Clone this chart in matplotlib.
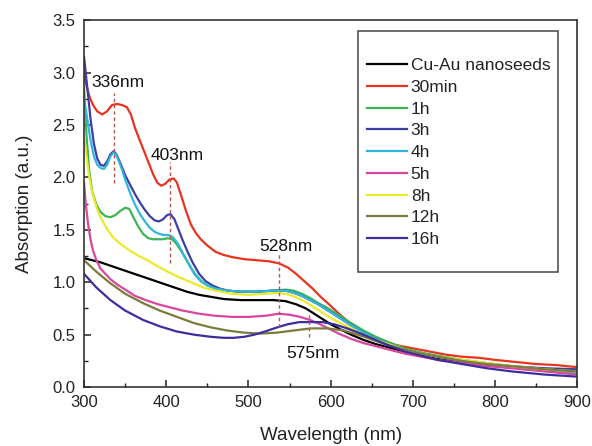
import matplotlib
matplotlib.use("Agg")
import matplotlib.pyplot as plt
from matplotlib.patches import Rectangle
from matplotlib.ticker import MultipleLocator

plt.rcParams["font.family"] = ["Liberation Sans", "DejaVu Sans"]

# --- data (wavelength nm, absorption a.u.) ---
wl_seed = [300, 310, 320, 335, 350, 365, 380, 395, 410, 425, 440, 455, 470, 490, 510, 530, 545, 558,
           570, 580, 590, 600, 612, 625, 640, 655, 670, 690, 710, 730, 760, 790, 820, 860, 900]
ab_seed = [1.23, 1.21, 1.19, 1.15, 1.11, 1.07, 1.03, 0.99, 0.95, 0.91, 0.88, 0.86, 0.84, 0.83, 0.83, 0.83,
           0.82, 0.79, 0.75, 0.70, 0.65, 0.60, 0.55, 0.50, 0.45, 0.41, 0.38, 0.34, 0.30, 0.27, 0.24, 0.21,
           0.19, 0.17, 0.16]

wl_30m = [300, 303, 307, 311, 316, 322, 328, 334, 340, 346, 352, 357, 362, 367, 372, 378, 384, 389, 394,
          399, 404, 409, 413, 418, 424, 430, 436, 442, 450, 460, 470, 480, 495, 510, 525, 537, 548, 558,
          568, 578, 588, 598, 610, 622, 635, 650, 665, 680, 700, 720, 740, 760, 780, 800, 825, 850, 875, 900]
ab_30m = [2.97, 2.87, 2.76, 2.69, 2.63, 2.60, 2.63, 2.69, 2.70, 2.69, 2.67, 2.60, 2.47, 2.37, 2.27, 2.15,
          2.03, 1.95, 1.92, 1.94, 1.98, 1.99, 1.95, 1.83, 1.68, 1.55, 1.47, 1.41, 1.35, 1.29, 1.26, 1.24,
          1.22, 1.21, 1.20, 1.18, 1.14, 1.08, 1.01, 0.94, 0.86, 0.79, 0.70, 0.62, 0.55, 0.49, 0.44, 0.40,
          0.37, 0.34, 0.31, 0.29, 0.28, 0.26, 0.24, 0.22, 0.21, 0.19]

wl_1h = [300, 303, 306, 310, 315, 320, 326, 332, 338, 344, 350, 355, 360, 366, 372, 378, 384, 390, 396,
         402, 407, 412, 418, 424, 430, 436, 443, 450, 460, 475, 490, 510, 530, 545, 555, 565, 575, 585,
         595, 605, 615, 625, 640, 655, 670, 690, 710, 730, 760, 790, 820, 860, 900]
ab_1h = [2.85, 2.40, 2.08, 1.86, 1.74, 1.67, 1.63, 1.62, 1.64, 1.68, 1.71, 1.70, 1.62, 1.53, 1.46, 1.42,
         1.41, 1.41, 1.41, 1.42, 1.41, 1.37, 1.30, 1.22, 1.14, 1.07, 1.01, 0.97, 0.94, 0.92, 0.91, 0.91,
         0.92, 0.93, 0.92, 0.89, 0.85, 0.80, 0.76, 0.71, 0.66, 0.61, 0.54, 0.48, 0.43, 0.37, 0.33, 0.30,
         0.26, 0.23, 0.20, 0.16, 0.13]

wl_3h = [300, 304, 308, 312, 316, 320, 324, 328, 332, 336, 340, 345, 350, 356, 362, 368, 374, 380, 386,
         391, 396, 401, 405, 410, 415, 420, 426, 432, 440, 448, 456, 465, 475, 490, 510, 530, 545, 555,
         565, 575, 585, 595, 605, 615, 625, 640, 655, 670, 690, 710, 730, 760, 790, 820, 860, 900]
ab_3h = [3.15, 2.85, 2.55, 2.32, 2.18, 2.12, 2.11, 2.15, 2.22, 2.25, 2.21, 2.12, 2.02, 1.93, 1.84, 1.76,
         1.69, 1.63, 1.59, 1.58, 1.60, 1.64, 1.65, 1.60, 1.50, 1.40, 1.29, 1.19, 1.08, 1.01, 0.97, 0.94,
         0.92, 0.91, 0.91, 0.92, 0.92, 0.90, 0.87, 0.83, 0.79, 0.74, 0.69, 0.64, 0.59, 0.52, 0.46, 0.41,
         0.36, 0.32, 0.29, 0.25, 0.22, 0.20, 0.18, 0.17]

wl_4h = [300, 304, 308, 312, 316, 320, 324, 328, 332, 336, 340, 345, 350, 356, 362, 368, 374, 380, 386,
         392, 398, 403, 408, 414, 420, 427, 434, 442, 450, 460, 475, 490, 510, 530, 545, 555, 565, 575,
         585, 595, 605, 615, 625, 640, 655, 670, 690, 710, 730, 760, 790, 820, 860, 900]
ab_4h = [2.75, 2.55, 2.35, 2.20, 2.12, 2.09, 2.08, 2.12, 2.20, 2.24, 2.20, 2.10, 1.98, 1.85, 1.74, 1.65,
         1.58, 1.52, 1.48, 1.46, 1.45, 1.45, 1.43, 1.37, 1.28, 1.18, 1.08, 1.01, 0.97, 0.94, 0.92, 0.91,
         0.91, 0.92, 0.92, 0.90, 0.87, 0.83, 0.79, 0.74, 0.69, 0.64, 0.59, 0.52, 0.46, 0.41, 0.36, 0.32,
         0.29, 0.25, 0.22, 0.19, 0.16, 0.13]

wl_5h = [300, 302, 305, 308, 311, 315, 320, 326, 332, 340, 350, 362, 375, 390, 405, 420, 440, 460, 480,
         500, 520, 537, 550, 563, 575, 587, 597, 610, 625, 640, 655, 670, 690, 710, 730, 760, 790, 820,
         860, 900]
ab_5h = [1.95, 1.75, 1.55, 1.40, 1.30, 1.21, 1.13, 1.08, 1.03, 0.98, 0.93, 0.87, 0.83, 0.79, 0.76, 0.73,
         0.70, 0.68, 0.67, 0.67, 0.68, 0.70, 0.69, 0.67, 0.64, 0.60, 0.56, 0.51, 0.46, 0.42, 0.39, 0.36,
         0.32, 0.29, 0.26, 0.23, 0.20, 0.18, 0.15, 0.12]

wl_8h = [300, 303, 306, 310, 315, 320, 327, 335, 345, 356, 367, 377, 390, 402, 415, 430, 445, 460, 480,
         500, 520, 537, 550, 560, 570, 580, 590, 600, 612, 625, 640, 655, 670, 690, 710, 730, 760, 790,
         820, 860, 900]
ab_8h = [2.40, 2.20, 2.02, 1.85, 1.72, 1.62, 1.52, 1.43, 1.36, 1.30, 1.25, 1.21, 1.15, 1.10, 1.05, 1.00,
         0.95, 0.92, 0.89, 0.88, 0.89, 0.90, 0.88, 0.85, 0.81, 0.76, 0.71, 0.66, 0.61, 0.56, 0.50, 0.45,
         0.41, 0.36, 0.32, 0.29, 0.26, 0.23, 0.20, 0.17, 0.15]

wl_12h = [300, 315, 332, 350, 372, 392, 413, 434, 454, 474, 494, 515, 535, 555, 576, 596, 616, 637, 655,
          670, 690, 710, 730, 760, 790, 820, 860, 900]
ab_12h = [1.21, 1.10, 0.99, 0.89, 0.80, 0.73, 0.67, 0.61, 0.57, 0.54, 0.52, 0.51, 0.52, 0.54, 0.56, 0.56,
          0.54, 0.49, 0.44, 0.40, 0.36, 0.32, 0.29, 0.25, 0.22, 0.20, 0.17, 0.15]

wl_16h = [300, 315, 332, 350, 372, 392, 413, 434, 454, 470, 482, 495, 507, 520, 535, 548, 562, 576, 590,
          604, 620, 637, 655, 670, 690, 710, 730, 760, 790, 820, 860, 900]
ab_16h = [1.08, 0.95, 0.83, 0.73, 0.64, 0.58, 0.53, 0.50, 0.48, 0.47, 0.47, 0.48, 0.50, 0.53, 0.57, 0.60,
          0.62, 0.62, 0.62, 0.60, 0.56, 0.51, 0.45, 0.40, 0.34, 0.30, 0.26, 0.22, 0.18, 0.15, 0.12, 0.10]

series = [
    ("Cu-Au nanoseeds", wl_seed, ab_seed, "#000000"),
    ("30min", wl_30m, ab_30m, "#e8341f"),
    ("1h", wl_1h, ab_1h, "#3db454"),
    ("3h", wl_3h, ab_3h, "#3b3fa6"),
    ("4h", wl_4h, ab_4h, "#31b6dc"),
    ("5h", wl_5h, ab_5h, "#d9469e"),
    ("8h", wl_8h, ab_8h, "#eaea2a"),
    ("12h", wl_12h, ab_12h, "#7c7b3e"),
    ("16h", wl_16h, ab_16h, "#3d2e9e"),
]

# peak markers: dashed line (x, y from, y to) and label (text, x, y)
peak_lines = [(336, 1.95, 2.80), (404, 1.18, 2.15), (537, 0.57, 1.28), (574, 0.48, 0.69)]
peak_texts = [("336nm", 341, 2.90), ("403nm", 413, 2.21), ("528nm", 546, 1.34), ("575nm", 579, 0.32)]

fig = plt.figure(figsize=(5.92, 4.46), dpi=100)
ax = fig.add_axes([0.142, 0.132, 0.833, 0.823])

for name, x, y, c in series:
    ax.plot(x, y, color=c, lw=1.6, label=name)

for x, y0, y1 in peak_lines:
    ax.plot([x, x], [y0, y1], ls=(0, (2.5, 2)), color="#b5574a", lw=1.0)
for t, x, y in peak_texts:
    ax.text(x, y, t, ha="center", va="center", fontsize=12.5, color="#111111")

ax.set_xlim(300, 900)
ax.set_ylim(0, 3.5)
ax.xaxis.set_major_locator(MultipleLocator(100))
ax.xaxis.set_minor_locator(MultipleLocator(50))
ax.yaxis.set_major_locator(MultipleLocator(0.5))
ax.yaxis.set_minor_locator(MultipleLocator(0.25))
ax.tick_params(which="both", direction="in", top=False, right=False, labelsize=12, colors="#222222")
ax.tick_params(which="major", length=5, width=1.1, pad=6)
ax.tick_params(which="minor", length=3, width=1.0)
for s in ax.spines.values():
    s.set_linewidth(1.2)
    s.set_color("#333333")
ax.set_xlabel("Wavelength (nm)", fontsize=13.5, color="#222222", labelpad=12)
ax.set_ylabel("Absorption (a.u.)", fontsize=13.5, color="#222222", labelpad=14)

leg = ax.legend(loc="upper left", bbox_to_anchor=(367 / 592, 1 - 58 / 446),
                bbox_transform=fig.transFigure, frameon=False, fontsize=12.5,
                borderpad=0, borderaxespad=0, handlelength=2.3, handletextpad=0.22,
                labelspacing=0.38)
for t in leg.get_texts():
    t.set_color("#222222")
fig.patches.append(Rectangle((358 / 592, 1 - 272 / 446), 200 / 592, 241 / 446,
                             transform=fig.transFigure, fill=False, lw=1.1, ec="#444444"))

fig.savefig("out.png", dpi=100)
